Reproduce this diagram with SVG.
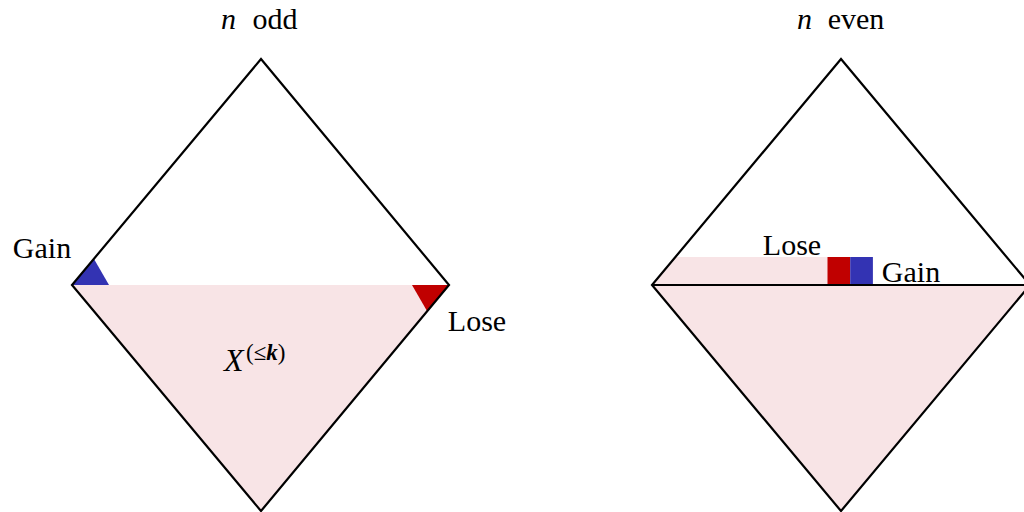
<svg xmlns="http://www.w3.org/2000/svg" width="1024" height="512" viewBox="0 0 1024 512">
<style>
.edge{fill:none;stroke:#000;stroke-width:2.2;stroke-linejoin:miter}
.pink{fill:#f8e4e6}
.red{fill:#c00000}
.blue{fill:#3333b3}
</style>
<defs>
<clipPath id="rd"><polygon points="841,59 1030,285 841,511 652,285"/></clipPath>
</defs>
<g id="left-diamond">
<polygon class="pink" points="72,285 449,285 261,511"/>
<polygon class="blue" points="72,285 94,259 109,285"/>
<polygon class="red" points="412,285 449,285 427,311"/>
<polygon class="edge" points="261,59 449,285 261,511 72,285"/>
</g>
<g id="right-diamond">
<g clip-path="url(#rd)">
<polygon class="pink" points="652,285 1030,285 841,511"/>
<rect class="pink" x="640" y="257" width="188" height="28"/>
</g>
<rect class="red" x="827.5" y="257" width="22.7" height="28"/>
<rect class="blue" x="850.2" y="257" width="22.7" height="28"/>
<polygon class="edge" points="841,59 1030,285 841,511 652,285"/>
</g>
<g id="connectors">
<line x1="652" y1="285" x2="1030" y2="285" stroke="#000" stroke-width="2.2"/>
</g>
<g id="labels" fill="#000">
<text x="221" y="29" font-family="Liberation Serif" font-style="italic" font-size="30">n</text>
<text x="275" y="29" font-family="Liberation Serif" font-size="30" text-anchor="middle">odd</text>
<text x="797" y="29" font-family="Liberation Serif" font-style="italic" font-size="30">n</text>
<text x="856" y="29" font-family="Liberation Serif" font-size="30" text-anchor="middle">even</text>
<text x="42" y="258" font-family="Liberation Serif" font-size="30" text-anchor="middle">Gain</text>
<text x="477" y="331" font-family="Liberation Serif" font-size="30" text-anchor="middle">Lose</text>
<text x="792" y="255" font-family="Liberation Serif" font-size="30" text-anchor="middle">Lose</text>
<text x="911" y="282" font-family="Liberation Serif" font-size="30" text-anchor="middle">Gain</text>
<text x="224" y="371" font-family="Liberation Serif" font-style="italic" font-size="32">X</text>
<text x="246" y="360" font-family="Liberation Serif" font-size="23">(≤<tspan font-style="italic" font-weight="bold">k</tspan>)</text>
</g>
</svg>
